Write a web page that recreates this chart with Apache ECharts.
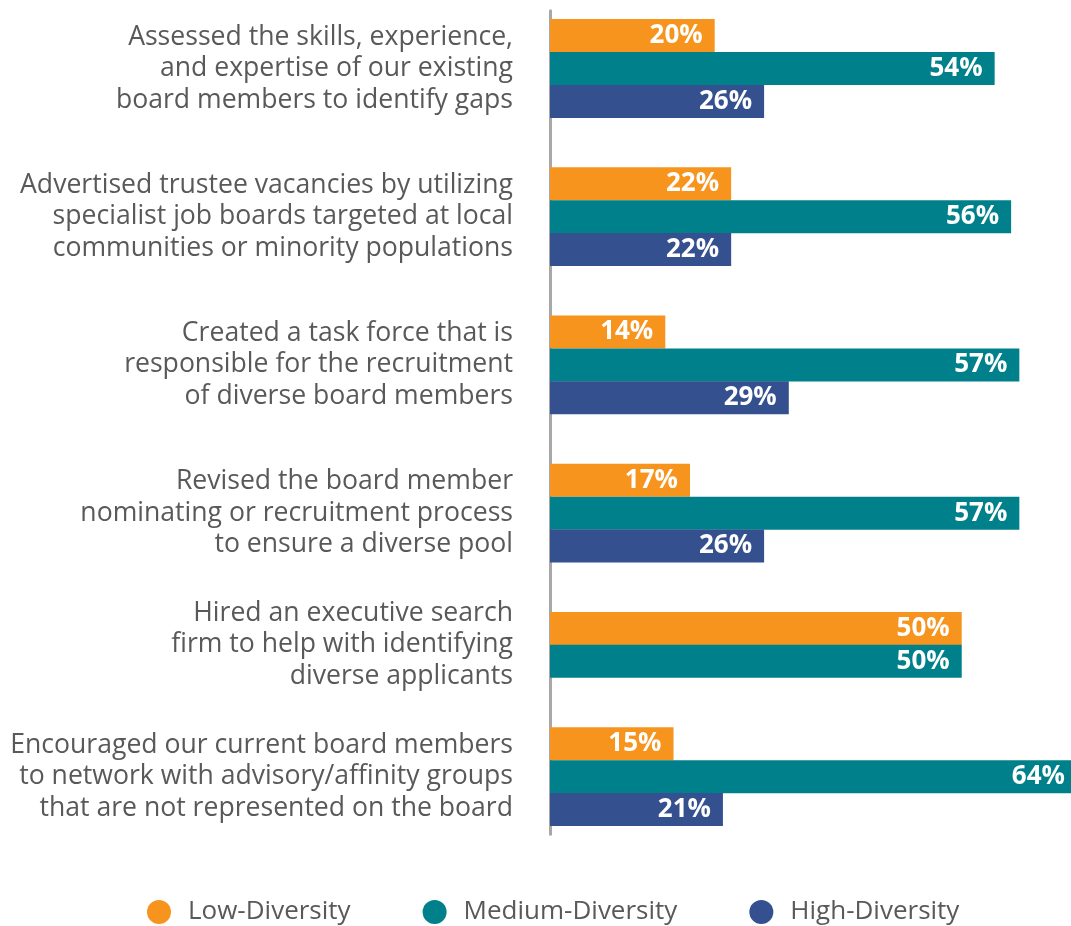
<!DOCTYPE html>
<html>
<head>
<meta charset="utf-8">
<script src="https://cdn.jsdelivr.net/npm/echarts@6/dist/echarts.min.js"></script>
<style>
html,body{margin:0;padding:0;background:#fff;}
#chart{width:1071px;height:926px;}
</style>
</head>
<body>
<div id="chart"></div>
<script>
var categories = [
	"Assessed the skills, experience,\nand expertise of our existing\nboard members to identify gaps",
	"Advertised trustee vacancies by utilizing\nspecialist job boards targeted at local\ncommunities or minority populations",
	"Created a task force that is\nresponsible for the recruitment\nof diverse board members",
	"Revised the board member\nnominating or recruitment process\nto ensure a diverse pool",
	"Hired an executive search\nfirm to help with identifying\ndiverse applicants",
	"Encouraged our current board members\nto network with advisory/affinity groups\nthat are not represented on the board"
];
var seriesNames = ["Low-Diversity", "Medium-Diversity", "High-Diversity"];
var lowVals = [20, 22, 14, 17, 50, 15];
var mediumVals = [54, 56, 57, 57, 50, 64];
var highVals = [26, 22, 29, 26, null, 21];
var colors = ["#F7941E", "#00808A", "#35508F"];

// each bar sits on its own row; a group with a missing bar gets no empty slot
var buildRows = function(allVals){
	var labels = [];
	var seriesData = [[], [], []];
	var pos = 1;
	var push = function(label, vals){
		labels.push(label);
		for (var s = 0; s < 3; s++) { seriesData[s].push(vals[s]); }
	};
	push("", ["-", "-", "-"]);
	for (var g = 0; g < categories.length; g++) {
		var present = [];
		for (var s = 0; s < 3; s++) {
			if (allVals[s][g] != null) { present.push(s); }
		}
		var first = pos;
		var centre = first + (present.length - 1);
		for (var k = 0; k < present.length; k++) {
			var cell = first + k * 2;
			while (labels.length <= cell + 1) { push("", ["-", "-", "-"]); }
			var v = ["-", "-", "-"];
			v[present[k]] = allVals[present[k]][g];
			for (var s2 = 0; s2 < 3; s2++) { seriesData[s2][cell] = v[s2]; }
		}
		labels[centre] = categories[g];
		pos = first + present.length * 2 + 3;
	}
	labels = labels.slice(0, pos - 3);
	for (var s3 = 0; s3 < 3; s3++) { seriesData[s3] = seriesData[s3].slice(0, pos - 3); }
	return {labels: labels, data: seriesData};
};

var rows = buildRows([lowVals, mediumVals, highVals]);

var series = [];
for (var i = 0; i < 3; i++) {
	series.push({
		name: seriesNames[i],
		type: "bar",
		stack: "all",
		barWidth: 33,
		data: rows.data[i],
		itemStyle: {color: colors[i]},
		label: {
			show: true,
			position: "insideRight",
			distance: 12,
			color: "#fff",
			fontFamily: "Open Sans",
			fontWeight: "bold",
			fontSize: 26,
			formatter: function(p){ return p.value + "%"; }
		}
	});
}

var chart = echarts.init(document.getElementById("chart"));
chart.setOption({
	animation: false,
	grid: {left: 550, top: 10.8, width: 527, height: 823.5, outerBoundsMode: "none", containLabel: false},
	legend: {
		data: seriesNames,
		left: 142,
		top: 894,
		icon: "circle",
		itemWidth: 24,
		itemHeight: 24,
		itemGap: 72,
		textStyle: {fontFamily: "Open Sans", fontSize: 26, color: "#595959", padding: [0, 0, 0, 12]}
	},
	xAxis: {type: "value", min: 0, max: 64, show: false},
	yAxis: {
		type: "category",
		inverse: true,
		data: rows.labels,
		axisLine: {show: true, lineStyle: {color: "#a8a8a8", width: 3}},
		axisTick: {show: false},
		axisLabel: {
			interval: 0,
			margin: 37,
			fontFamily: "Open Sans",
			fontSize: 26.6,
			lineHeight: 31.5,
			color: "#595959"
		}
	},
	series: series
});
</script>
</body>
</html>
